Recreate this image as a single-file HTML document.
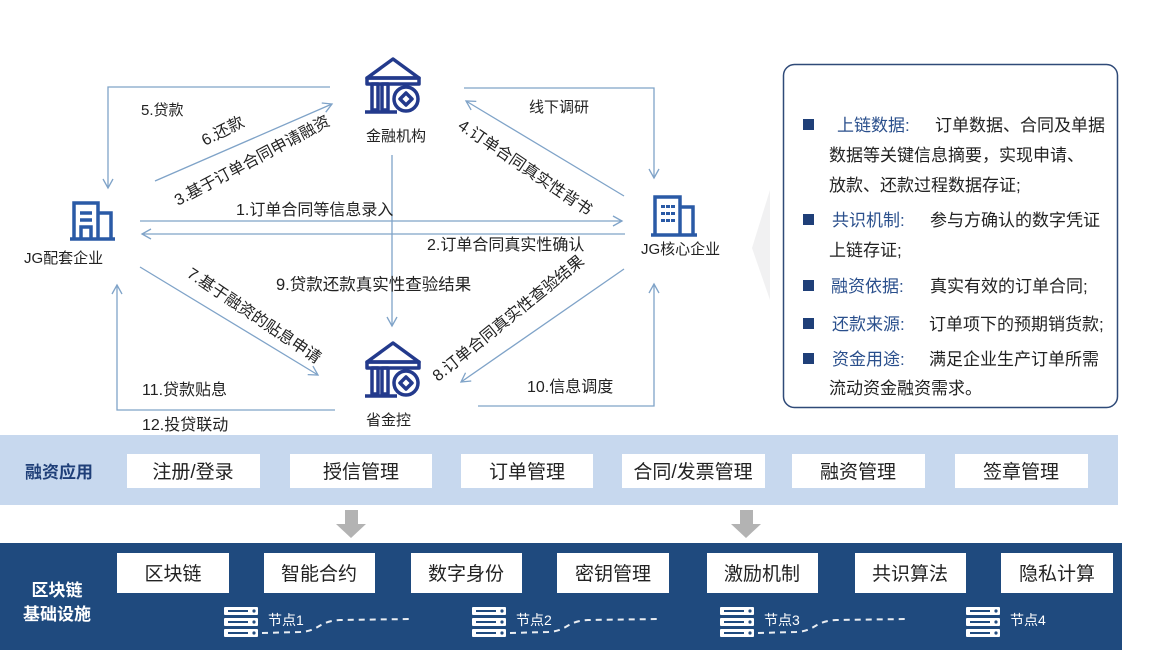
<!DOCTYPE html>
<html><head><meta charset="utf-8"><style>
html,body{margin:0;padding:0;background:#fff;}
svg{display:block}
text{font-family:"Liberation Sans","Noto Sans CJK SC",sans-serif;}
</style></head><body>
<svg width="1150" height="657" viewBox="0 0 1150 657" xmlns="http://www.w3.org/2000/svg">
<defs>
<marker id="ar" markerWidth="12" markerHeight="12" refX="10" refY="6" orient="auto" markerUnits="userSpaceOnUse">
<path d="M1,1 L10,6 L1,11" fill="none" stroke="#7fa3c8" stroke-width="1.3"/>
</marker>
<g id="bank" fill="none" stroke="#233a8c" stroke-width="3.5" stroke-linejoin="round">
<path d="M4,22 L30,3 L56,22 Z"/>
<rect x="4" y="22" width="52" height="6"/>
<rect x="9" y="28" width="6" height="26"/>
<rect x="19" y="28" width="6" height="26"/>
<circle cx="43" cy="43" r="12" fill="#fff"/>
<path d="M43,37 L49,43 L43,49 L37,43 Z"/>
<line x1="2" y1="56" x2="34" y2="56"/>
</g>
<g id="srv" fill="#fff">
<rect x="0" y="0" width="34" height="8" rx="1"/>
<rect x="0" y="11" width="34" height="8" rx="1"/>
<rect x="0" y="22" width="34" height="8" rx="1"/>
<circle cx="30" cy="4" r="1.6" fill="#1f4a7e"/><circle cx="30" cy="15" r="1.6" fill="#1f4a7e"/><circle cx="30" cy="26" r="1.6" fill="#1f4a7e"/>
<rect x="4" y="3" width="20" height="2" fill="#1f4a7e"/><rect x="4" y="14" width="20" height="2" fill="#1f4a7e"/><rect x="4" y="25" width="20" height="2" fill="#1f4a7e"/>
</g>
</defs>

<g stroke="#7fa3c8" stroke-width="1.3" fill="none">
<polyline points="330,87 108,87 108,188" marker-end="url(#ar)"/>
<line x1="155" y1="181" x2="332" y2="104" marker-end="url(#ar)"/>
<line x1="392" y1="155" x2="392" y2="326" marker-end="url(#ar)"/>
<polyline points="464,88 654,88 654,178" marker-end="url(#ar)"/>
<line x1="624" y1="196" x2="466" y2="101" marker-end="url(#ar)"/>
<line x1="140" y1="221" x2="622" y2="221" marker-end="url(#ar)"/>
<line x1="625" y1="234" x2="142" y2="234" marker-end="url(#ar)"/>
<line x1="140" y1="267" x2="318" y2="375" marker-end="url(#ar)"/>
<line x1="624" y1="269" x2="461" y2="382" marker-end="url(#ar)"/>
<polyline points="335,410 117,410 117,285" marker-end="url(#ar)"/>
<polyline points="478,406 654,406 654,284" marker-end="url(#ar)"/>
</g>

<use href="#bank" x="363" y="56"/>
<use href="#bank" x="363" y="340"/>
<g fill="none" stroke="#2a5aa6" stroke-width="3.5">
<path d="M74,238 L74,203 L98,203 L98,238 M98,213 L111,213 L111,238 M70,239 L115,239"/>
<path d="M80,213 L92,213 M80,220 L92,220 M81,238 L81,227 L91,227 L91,238"/>
<path d="M655,234 L655,197 L680,197 L680,234 M680,207 L693,207 L693,234 M651,235 L697,235"/>
</g>
<g fill="#2a5aa6">
<rect x="661" y="205" width="4" height="3"/><rect x="666" y="205" width="4" height="3"/><rect x="671" y="205" width="4" height="3"/>
<rect x="661" y="212" width="4" height="3"/><rect x="666" y="212" width="4" height="3"/><rect x="671" y="212" width="4" height="3"/>
<rect x="661" y="219" width="4" height="3"/><rect x="666" y="219" width="4" height="3"/><rect x="671" y="219" width="4" height="3"/>
</g>

<g font-size="15" fill="#222">
<text x="366" y="141">金融机构</text>
<text x="366" y="425">省金控</text>
<text x="24" y="263">JG配套企业</text>
<text x="641" y="254">JG核心企业</text>
<text x="141" y="115">5.贷款</text>
<text x="529" y="112">线下调研</text>
</g>
<g font-size="16" fill="#222">
<text x="236" y="215">1.订单合同等信息录入</text>
<text x="427" y="250">2.订单合同真实性确认</text>
<text x="276" y="290" font-size="16.5">9.贷款还款真实性查验结果</text>
<text x="142" y="395">11.贷款贴息</text>
<text x="142" y="430">12.投贷联动</text>
<text x="527" y="392">10.信息调度</text>
<text transform="translate(205,146) rotate(-27)">6.还款</text>
<text transform="translate(178,206) rotate(-28)">3.基于订单合同申请融资</text>
<text transform="translate(457,128) rotate(34)">4.订单合同真实性背书</text>
<text transform="translate(186,276) rotate(34)">7.基于融资的贴息申请</text>
<text transform="translate(438,382) rotate(-39)">8.订单合同真实性查验结果</text>
</g>

<polygon points="770,190 752,248 770,300" fill="#f1f1f2"/>

<rect x="783.5" y="64.5" width="334" height="343" rx="11" fill="#fff" stroke="#2f4a78" stroke-width="1.5"/>
<g font-size="17" fill="#222">
<rect x="803" y="119" width="11" height="11" fill="#1f3f78"/>
<text y="131"><tspan x="837" fill="#2a4f8c">上链数据:</tspan><tspan x="935">订单数据、合同及单据</tspan></text>
<text x="829" y="161">数据等关键信息摘要，实现申请、</text>
<text x="829" y="191">放款、还款过程数据存证;</text>
<rect x="803" y="214" width="11" height="11" fill="#1f3f78"/>
<text y="226"><tspan x="832" fill="#2a4f8c">共识机制:</tspan><tspan x="930">参与方确认的数字凭证</tspan></text>
<text x="829" y="256">上链存证;</text>
<rect x="803" y="280" width="11" height="11" fill="#1f3f78"/>
<text y="292"><tspan x="831" fill="#2a4f8c">融资依据:</tspan><tspan x="930">真实有效的订单合同;</tspan></text>
<rect x="803" y="318" width="11" height="11" fill="#1f3f78"/>
<text y="330"><tspan x="832" fill="#2a4f8c">还款来源:</tspan><tspan x="929">订单项下的预期销货款;</tspan></text>
<rect x="803" y="353" width="11" height="11" fill="#1f3f78"/>
<text y="365"><tspan x="832" fill="#2a4f8c">资金用途:</tspan><tspan x="929">满足企业生产订单所需</tspan></text>
<text x="829" y="394">流动资金融资需求。</text>
</g>

<rect x="0" y="435" width="1118" height="70" fill="#c7d8ee"/>
<text x="25" y="478" font-size="17" font-weight="bold" fill="#1f3f78">融资应用</text>
<g fill="#fff">
<rect x="127" y="454" width="133" height="34"/><rect x="290" y="454" width="142" height="34"/>
<rect x="461" y="454" width="132" height="34"/><rect x="622" y="454" width="143" height="34"/>
<rect x="792" y="454" width="133" height="34"/><rect x="955" y="454" width="133" height="34"/>
</g>
<g font-size="19" fill="#222" text-anchor="middle">
<text x="193" y="478">注册/登录</text><text x="361" y="478">授信管理</text>
<text x="527" y="478">订单管理</text><text x="693" y="478">合同/发票管理</text>
<text x="858" y="478">融资管理</text><text x="1021" y="478">签章管理</text>
</g>

<g fill="#b3b3b3">
<path d="M345,510 L358,510 L358,524 L366,524 L351,538 L336,524 L345,524 Z"/>
<path d="M740,510 L753,510 L753,524 L761,524 L746,538 L731,524 L740,524 Z"/>
</g>

<rect x="0" y="543" width="1122" height="107" fill="#1f4a7e"/>
<text x="57" y="596" font-size="17" font-weight="bold" fill="#fff" text-anchor="middle">区块链</text>
<text x="57" y="620" font-size="17" font-weight="bold" fill="#fff" text-anchor="middle">基础设施</text>
<g fill="#fff">
<rect x="117" y="553" width="112" height="40"/><rect x="264" y="553" width="111" height="40"/>
<rect x="411" y="553" width="111" height="40"/><rect x="557" y="553" width="112" height="40"/>
<rect x="707" y="553" width="111" height="40"/><rect x="855" y="553" width="111" height="40"/>
<rect x="1001" y="553" width="112" height="40"/>
</g>
<g font-size="19" fill="#222" text-anchor="middle">
<text x="173" y="580">区块链</text><text x="319" y="580">智能合约</text>
<text x="466" y="580">数字身份</text><text x="613" y="580">密钥管理</text>
<text x="762" y="580">激励机制</text><text x="910" y="580">共识算法</text>
<text x="1057" y="580">隐私计算</text>
</g>
<use href="#srv" x="224" y="607"/><use href="#srv" x="472" y="607"/>
<use href="#srv" x="720" y="607"/><use href="#srv" x="966" y="607"/>
<g font-size="14" fill="#fff">
<text x="268" y="625">节点1</text><text x="516" y="625">节点2</text>
<text x="764" y="625">节点3</text><text x="1010" y="625">节点4</text>
</g>
<g stroke="#fff" stroke-width="2" stroke-dasharray="6,5" fill="none" opacity="0.9">
<path d="M262,633 L300,632 C320,631 318,621 340,620 L412,619"/>
<path d="M510,633 L548,632 C568,631 566,621 588,620 L660,619"/>
<path d="M758,633 L796,632 C816,631 814,621 836,620 L908,619"/>
</g>
</svg>
</body></html>
